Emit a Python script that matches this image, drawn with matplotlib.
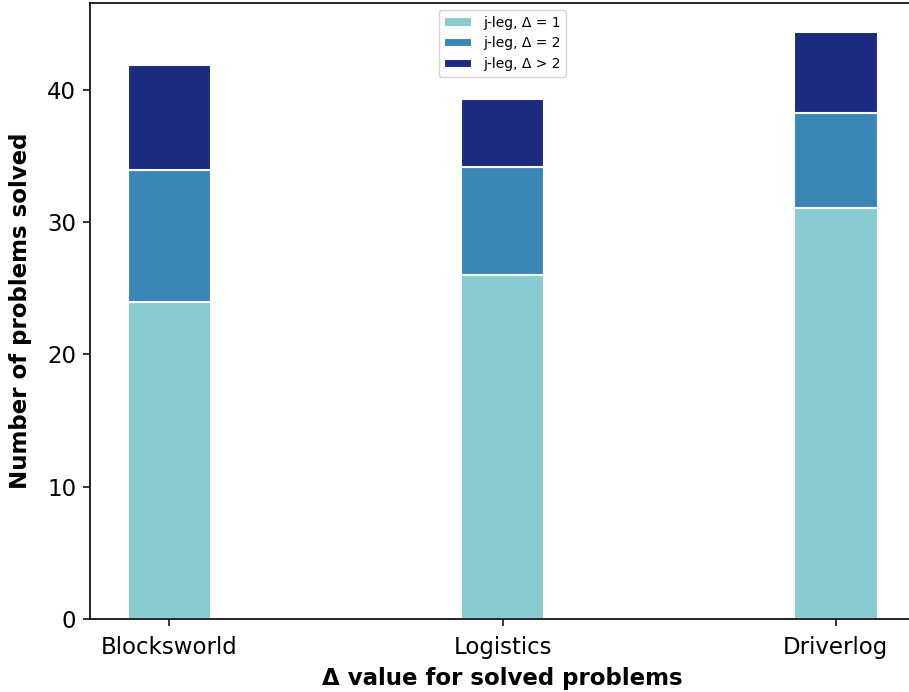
import matplotlib
matplotlib.use('Agg')
import matplotlib.pyplot as plt
import numpy as np

# solved problems per domain, split by delta value
domains = ['Blocksworld', 'Logistics', 'Driverlog']
delta_1 = [24.0, 26.0, 31.1]
delta_2 = [9.95, 8.2, 7.15]
delta_gt2 = [7.9, 5.1, 6.1]

series_labels = ['j-leg, Δ = 1', 'j-leg, Δ = 2', 'j-leg, Δ > 2']
colors = ['#88CCD1', '#3A86B7', '#1B2C80']

fig = plt.figure(figsize=(9.09, 6.92), dpi=100)
ax = fig.add_axes([90 / 909, 73 / 692, 825 / 909, 616 / 692])

x = np.arange(len(domains))
width = 0.25
bottom = np.zeros(len(domains))
for vals, lab, col in zip([delta_1, delta_2, delta_gt2], series_labels, colors):
    ax.bar(x, vals, width, bottom=bottom, color=col, edgecolor='white',
           linewidth=1.5, label=lab)
    bottom += np.array(vals)

ax.set_xticks(x)
ax.set_xticklabels(domains)
ax.tick_params(axis='both', labelsize=16.5, length=5, width=1.1)
ax.tick_params(axis='x', pad=7)
ax.tick_params(axis='y', pad=5)
ax.set_xlabel('Δ value for solved problems', fontsize=16.5, fontweight='bold', labelpad=6)
ax.set_ylabel('Number of problems solved', fontsize=16.5, fontweight='bold', labelpad=11)
for s in ax.spines.values():
    s.set_linewidth(1.2)
ax.legend(loc='upper center', fontsize=10)

fig.savefig('out.png', dpi=100)
